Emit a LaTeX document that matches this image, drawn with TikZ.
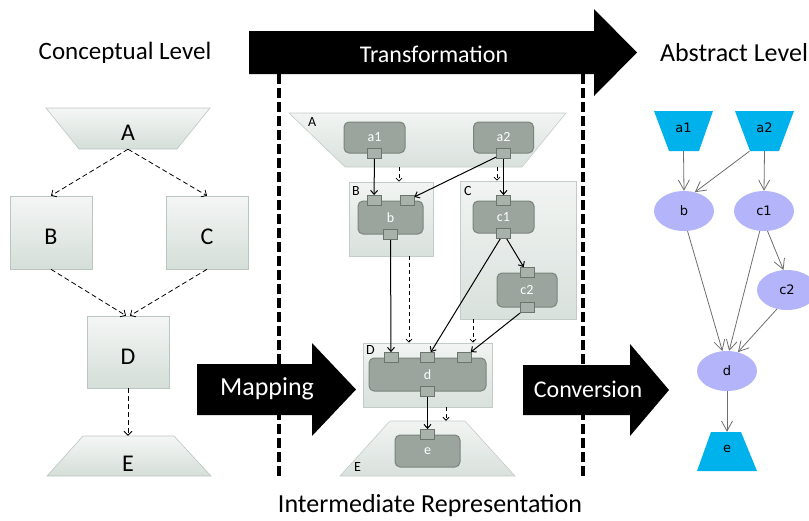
\documentclass[tikz,border=0pt]{standalone}
\usepackage{fontspec}
\setmainfont{Carlito}
\newfontfamily\gvfont{DejaVu Sans}
\usetikzlibrary{positioning, arrows.meta, shapes.geometric}

\definecolor{boxtop}{HTML}{F4F6F5}
\definecolor{boxbot}{HTML}{D5DED9}
\definecolor{boxline}{HTML}{BCC6C1}
\definecolor{conttop}{HTML}{F1F4F2}
\definecolor{contbot}{HTML}{D9E1DD}
\definecolor{contline}{HTML}{C3CCC7}
\definecolor{compfill}{HTML}{9BA59E}
\definecolor{compline}{HTML}{7A847C}
\definecolor{portfill}{HTML}{A8B2AB}
\definecolor{portline}{HTML}{6B756D}
\definecolor{gvcyan}{HTML}{00B2EC}
\definecolor{gvlav}{HTML}{B4B4FA}
\definecolor{edgegray}{HTML}{6E6E6E}

\begin{document}
\begin{tikzpicture}[x=1pt, y=-1pt,
    title/.style={font=\fontsize{#1}{30}\selectfont, inner sep=0pt},
    concept/.style={draw=boxline, line width=.6pt, top color=boxtop, bottom color=boxbot},
    bigtag/.style={font=\fontsize{24}{28}\selectfont, inner sep=0pt, text height=24pt, text depth=0pt},
    cdash/.style={dash pattern=on 5pt off 3pt, line width=.8pt, -{Straight Barb[length=4pt,width=8pt]}},
    container/.style={draw=contline, line width=.6pt, top color=conttop, bottom color=contbot},
    comp/.style={draw=compline, fill=compfill, line width=1pt, rounded corners=5pt, text=white,
        font=\fontsize{14}{16}\selectfont, inner sep=0pt},
    port/.style={draw=portline, fill=portfill, line width=.8pt, minimum width=14pt, minimum height=10pt, inner sep=0pt},
    tag/.style={font=\fontsize{14}{16}\selectfont, inner sep=0pt, anchor=north west},
    link/.style={line width=1pt, -{Straight Barb[length=4pt,width=7pt]}},
    sdash/.style={dash pattern=on 4pt off 3pt, line width=.8pt, -{Straight Barb[length=3pt,width=6pt]}},
    gvnode/.style={font=\gvfont\fontsize{13}{15}\selectfont, inner sep=0pt},
    gvedge/.style={draw=edgegray, line width=.8pt, -{Straight Barb[length=10pt,width=11pt]}},
]
    \useasboundingbox (0,0) rectangle (809,520);

    % titles
    \node[title=25] (concept) at (125,53) {Conceptual Level};
    \node[title=26] (abstract) at (734,53) {Abstract Level};
    \node[title=26] (interm) at (430,506) {Intermediate Representation};

    % conceptual level
    \path[concept] (46,108) -- (210,108) -- (177,149) -- (79,149) -- cycle;
    \node[bigtag, minimum width=164pt, minimum height=41pt] (A) at (128,128.5) {A};
    \node[concept, bigtag, minimum width=82pt, minimum height=73pt] (B) at (51,232.5) {B};
    \node[concept, bigtag, minimum width=82pt, minimum height=73pt] (C) at (207,232.5) {C};
    \node[concept, bigtag, minimum width=82pt, minimum height=72pt] (D) at (128,352) {D};
    \path[concept] (83,436) -- (174,436) -- (211,476) -- (47,476) -- cycle;
    \node[bigtag, minimum width=164pt, minimum height=47pt] (E) at (128,459.5) {E};

    \draw[cdash] (A.south) -- (B.north);
    \draw[cdash] (A.south) -- (C.north);
    \draw[cdash] (B.south) -- ([xshift=-2pt]D.north);
    \draw[cdash] (C.south) -- ([xshift=2pt]D.north);
    \draw[cdash] (D.south) -- (E.north);

    % borders of the intermediate level
    \draw[line width=3.5pt, dash pattern=on 10pt off 4pt] (279,74) -- (279,477);
    \draw[line width=3.5pt, dash pattern=on 10pt off 4pt] (583,74) -- (583,477);

    % big arrows
    \fill (249,31) -- (594,31) -- (594,9) -- (637,52.5) -- (594,96) -- (594,74) -- (249,74) -- cycle;
    \node[title=24, text=white] (trans) at (434,54) {Transformation};
    \fill (197,364) -- (312,364) -- (312,343) -- (356,389.5) -- (312,436) -- (312,415) -- (197,415) -- cycle;
    \node[title=26, text=white] (mapping) at (267,389) {Mapping};
    \fill (523,365) -- (630,365) -- (630,344) -- (669,390) -- (630,436) -- (630,415) -- (523,415) -- cycle;
    \node[title=24, text=white] (conversion) at (588,389) {Conversion};

    % intermediate representation
    \path[container] (289,113) -- (566,113) -- (522,167) -- (345,167) -- cycle;
    \node[minimum width=277pt, minimum height=54pt, inner sep=0pt] (mA) at (427.5,140) {};
    \node[tag] (tA) at (308,117) {A};
    \node[container, minimum width=84pt, minimum height=74pt] (mB) at (391,219) {};
    \node[tag] (tB) at (352,186) {B};
    \node[container, minimum width=116pt, minimum height=138pt] (mC) at (518,250) {};
    \node[tag] (tC) at (464,186) {C};
    \node[container, minimum width=129pt, minimum height=64pt] (mD) at (427.5,375) {};
    \node[tag] (tD) at (366,345) {D};
    \path[container] (390,421) -- (465,421) -- (515,476) -- (340,476) -- cycle;
    \node[minimum width=175pt, minimum height=55pt, inner sep=0pt] (mE) at (427.5,448.5) {};
    \node[tag] (tE) at (354,462) {E};

    \node[comp, minimum width=61pt, minimum height=31pt] (a1) at (374.5,137.5) {a1};
    \node[port] (a1o) at (a1.south) {};
    \node[comp, minimum width=60pt, minimum height=31pt] (a2) at (503.5,137.5) {a2};
    \node[port] (a2o) at (a2.south) {};
    \node[comp, minimum width=65pt, minimum height=33pt] (b) at (390.5,217.5) {b};
    \node[port] (bi1) at ([xshift=-16.5pt]b.north) {};
    \node[port] (bi2) at ([xshift=16.5pt]b.north) {};
    \node[port] (bo) at (b.south) {};
    \node[comp, minimum width=61pt, minimum height=32pt] (c1) at (503.5,217) {c1};
    \node[port] (c1i) at (c1.north) {};
    \node[port] (c1o) at (c1.south) {};
    \node[comp, minimum width=60pt, minimum height=34pt] (c2) at (527,290) {c2};
    \node[port] (c2i) at (c2.north) {};
    \node[port] (c2o) at (c2.south) {};
    \node[comp, minimum width=117pt, minimum height=33pt] (d) at (427.5,374.5) {d};
    \node[port] (di1) at ([xshift=-36.5pt]d.north) {};
    \node[port] (di2) at (d.north) {};
    \node[port] (di3) at ([xshift=36.5pt]d.north) {};
    \node[port] (do) at (d.south) {};
    \node[comp, minimum width=65pt, minimum height=32pt] (e) at (427.5,451) {e};
    \node[port] (ei) at (e.north) {};

    \draw[link] (a1o) -- (bi1);
    \draw[link] (a2o) -- (bi2);
    \draw[link] (a2o) -- (c1i);
    \draw[link] (bo) -- (di1);
    \draw[link] (c1o) -- (c2i);
    \draw[link] (c1o) -- (di2);
    \draw[link] (c2o) -- (di3);
    \draw[link] (do) -- (ei);

    \draw[sdash] (mA.south -| 399,0) -- (mB.north -| 399,0);
    \draw[sdash] (mA.south -| 497,0) -- (mC.north -| 497,0);
    \draw[sdash] (mB.south -| 409,0) -- (mD.north -| 409,0);
    \draw[sdash] (mC.south -| 473,0) -- (mD.north -| 473,0);
    \draw[sdash] (mD.south -| 446,0) -- (mE.north -| 446,0);

    % abstract level
    \fill[gvcyan] (654,111) -- (713,111) -- (699,151) -- (669,151) -- cycle;
    \node[gvnode, minimum width=59pt, minimum height=46pt] (ra1) at (683.5,128) {a1};
    \fill[gvcyan] (735,111) -- (794,111) -- (779,151) -- (750,151) -- cycle;
    \node[gvnode, minimum width=59pt, minimum height=46pt] (ra2) at (764.5,128) {a2};
    \node[gvnode, ellipse, fill=gvlav, minimum width=60pt, minimum height=40pt] (rb) at (684,211) {b};
    \node[gvnode, ellipse, fill=gvlav, minimum width=60pt, minimum height=40pt] (rc1) at (764,211) {c1};
    \node[gvnode, ellipse, fill=gvlav, minimum width=60pt, minimum height=40pt] (rc2) at (787,290) {c2};
    \node[gvnode, ellipse, fill=gvlav, minimum width=60pt, minimum height=40pt] (rd) at (727,371) {d};
    \fill[gvcyan] (711,432) -- (741,432) -- (757,471) -- (697,471) -- cycle;
    \node[gvnode, minimum width=60pt, minimum height=34pt] (re) at (727,449) {e};

    \draw[gvedge] (ra1.south) -- (rb.north);
    \draw[gvedge] ([xshift=-15pt]ra2.south) -- (rb.60);
    \draw[gvedge] (ra2.south) -- (rc1.north);
    \draw[gvedge] (rb.280) -- (rd.103);
    \draw[gvedge] (rc1.258) -- (rd.84);
    \draw[gvedge] (rc1.280) -- (rc2.100);
    \draw[gvedge] (rc2.242) -- (rd.60);
    \draw[gvedge] (rd.south) -- (re.north);
\end{tikzpicture}
\end{document}
